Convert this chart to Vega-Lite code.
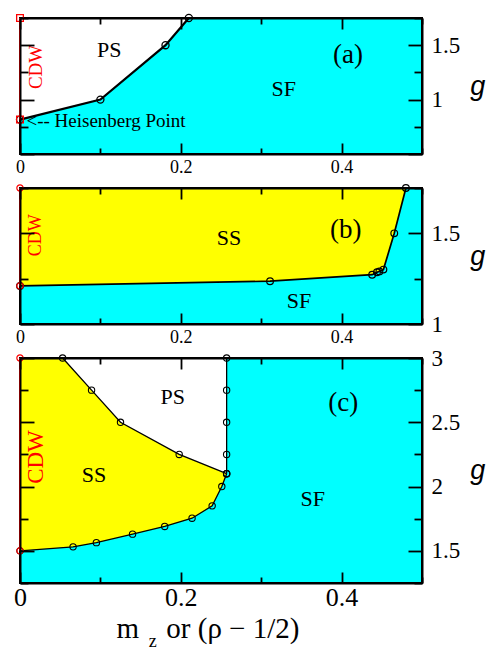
{
  "$schema": "https://vega.github.io/schema/vega-lite/v6.json",
  "padding": {"left": 12, "top": 10, "right": 0, "bottom": 3},
  "spacing": 34,
  "bounds": "flush",
  "config": {
    "view": {"fill": "#00ffff", "stroke": "black", "strokeWidth": 2},
    "axis": {
      "labelFont": "Liberation Serif",
      "labelColor": "black",
      "tickColor": "black",
      "tickWidth": 1.8,
      "domainColor": "black",
      "domainWidth": 2,
      "grid": false
    },
    "axisY": {
      "titleFont": "Liberation Sans",
      "titleFontStyle": "italic",
      "titleFontWeight": "normal",
      "titleFontSize": 27,
      "titleAngle": 0,
      "titleAlign": "left",
      "titleBaseline": "middle",
      "titlePadding": 10,
      "titleColor": "black"
    },
    "text": {"font": "Liberation Serif"}
  },
  "vconcat": [
    {
      "width": 402,
      "height": 136,
      "resolve": {"axis": {"x": "independent", "y": "independent"}},
      "layer": [
        {
          "data": {"values": [
            {"x": 0, "g": 0.816},
            {"x": 0.1, "g": 1.0},
            {"x": 0.181, "g": 1.5},
            {"x": 0.21, "g": 1.75}
          ]},
          "mark": {"type": "area", "color": "white", "interpolate": "linear"},
          "encoding": {
            "x": {"field": "x", "type": "quantitative", "scale": {"domain": [0, 0.5], "nice": false, "zero": false},
              "axis": {"orient": "bottom", "values": [0, 0.1, 0.2, 0.3, 0.4, 0.5],
                "labelExpr": "datum.value == 0 ? '0' : datum.value == 0.2 ? '0.2' : datum.value == 0.4 ? '0.4' : ''",
                "tickSize": {"condition": {"test": "datum.value == 0.1 || datum.value == 0.3 || datum.value == 0.5", "value": -6}, "value": -11},
                "labelFontSize": {"condition": {"test": "datum.value == 0 || datum.value == 0.2 || datum.value == 0.4", "value": 18}, "value": 0},
                "labelPadding": 15, "labelFlush": false, "labelOverlap": false, "title": null, "zindex": 1}},
            "y": {"field": "g", "type": "quantitative", "scale": {"domain": [0.5, 1.75], "nice": false, "zero": false},
              "axis": {"orient": "right", "values": [0.5, 0.75, 1, 1.25, 1.5, 1.75],
                "labelExpr": "datum.value == 1 ? '1' : datum.value == 1.5 ? '1.5' : ''",
                "tickSize": {"condition": {"test": "datum.value == 0.75 || datum.value == 1.25 || datum.value == 1.75", "value": -8}, "value": -14},
                "labelFontSize": {"condition": {"test": "datum.value == 1 || datum.value == 1.5", "value": 23}, "value": 0},
                "labelPadding": 23, "labelFlush": false, "labelOverlap": false, "title": "g", "zindex": 1}},
            "y2": {"datum": 1.75}
          }
        },
        {
          "data": {"values": [
            {"x": 0, "g": 0.816},
            {"x": 0.1, "g": 1.0},
            {"x": 0.181, "g": 1.5},
            {"x": 0.21, "g": 1.75}
          ]},
          "mark": {"type": "line", "color": "black", "strokeWidth": 2.2,
            "point": {"filled": false, "size": 50, "strokeWidth": 1.3, "color": "black"}},
          "encoding": {
            "x": {"field": "x", "type": "quantitative", "scale": {"domain": [0, 0.5], "nice": false, "zero": false},
              "axis": {"orient": "top", "values": [0, 0.1, 0.2, 0.3, 0.4, 0.5], "labels": false,
                "tickSize": {"condition": {"test": "datum.value == 0.1 || datum.value == 0.3 || datum.value == 0.5", "value": -6}, "value": -11},
                "title": null, "zindex": 1}},
            "y": {"field": "g", "type": "quantitative", "scale": {"domain": [0.5, 1.75], "nice": false, "zero": false},
              "axis": {"orient": "left", "values": [0.5, 0.75, 1, 1.25, 1.5, 1.75], "labels": false,
                "tickSize": {"condition": {"test": "datum.value == 0.75 || datum.value == 1.25 || datum.value == 1.75", "value": -8}, "value": -14},
                "title": null, "zindex": 1}}
          }
        },
        {
          "data": {"values": [{"x": 0, "g": 0.816}, {"x": 0, "g": 1.75}]},
          "mark": {"type": "line", "color": "red", "strokeWidth": 2,
            "point": {"shape": "square", "filled": false, "size": 45, "strokeWidth": 1.3, "color": "red"}},
          "encoding": {
            "x": {"field": "x", "type": "quantitative", "scale": {"domain": [0, 0.5], "nice": false, "zero": false}, "axis": null},
            "y": {"field": "g", "type": "quantitative", "scale": {"domain": [0.5, 1.75], "nice": false, "zero": false}, "axis": null}
          }
        },
        {
          "data": {"values": [{"t": "PS", "x": 0.111, "g": 1.457}, {"t": "SF", "x": 0.328, "g": 1.098}]},
          "mark": {"type": "text", "fontSize": 22, "color": "black"},
          "encoding": {
            "x": {"field": "x", "type": "quantitative", "scale": {"domain": [0, 0.5], "nice": false, "zero": false}, "axis": null},
            "y": {"field": "g", "type": "quantitative", "scale": {"domain": [0.5, 1.75], "nice": false, "zero": false}, "axis": null},
            "text": {"field": "t"}
          }
        },
        {
          "data": {"values": [{"t": "(a)", "x": 0.408, "g": 1.41}]},
          "mark": {"type": "text", "fontSize": 27, "color": "black"},
          "encoding": {
            "x": {"field": "x", "type": "quantitative", "scale": {"domain": [0, 0.5], "nice": false, "zero": false}, "axis": null},
            "y": {"field": "g", "type": "quantitative", "scale": {"domain": [0.5, 1.75], "nice": false, "zero": false}, "axis": null},
            "text": {"field": "t"}
          }
        },
        {
          "data": {"values": [{"t": "CDW", "x": 0.02, "g": 1.3}]},
          "mark": {"type": "text", "fontSize": 19, "color": "red", "angle": 270},
          "encoding": {
            "x": {"field": "x", "type": "quantitative", "scale": {"domain": [0, 0.5], "nice": false, "zero": false}, "axis": null},
            "y": {"field": "g", "type": "quantitative", "scale": {"domain": [0.5, 1.75], "nice": false, "zero": false}, "axis": null},
            "text": {"field": "t"}
          }
        },
        {
          "data": {"values": [{"t": "<-- Heisenberg Point", "x": 0.008, "g": 0.8}]},
          "mark": {"type": "text", "fontSize": 19, "color": "black", "align": "left"},
          "encoding": {
            "x": {"field": "x", "type": "quantitative", "scale": {"domain": [0, 0.5], "nice": false, "zero": false}, "axis": null},
            "y": {"field": "g", "type": "quantitative", "scale": {"domain": [0.5, 1.75], "nice": false, "zero": false}, "axis": null},
            "text": {"field": "t"}
          }
        }
      ]
    },
    {
      "width": 402,
      "height": 136,
      "resolve": {"axis": {"x": "independent", "y": "independent"}},
      "layer": [
        {
          "data": {"values": [
            {"x": 0, "g": 1.21},
            {"x": 0.311, "g": 1.236},
            {"x": 0.438, "g": 1.272},
            {"x": 0.444, "g": 1.285},
            {"x": 0.447, "g": 1.29},
            {"x": 0.452, "g": 1.3},
            {"x": 0.4655, "g": 1.5},
            {"x": 0.48, "g": 1.75}
          ]},
          "mark": {"type": "area", "color": "#ffff00", "interpolate": "linear"},
          "encoding": {
            "x": {"field": "x", "type": "quantitative", "scale": {"domain": [0, 0.5], "nice": false, "zero": false},
              "axis": {"orient": "bottom", "values": [0, 0.1, 0.2, 0.3, 0.4, 0.5],
                "labelExpr": "datum.value == 0 ? '0' : datum.value == 0.2 ? '0.2' : datum.value == 0.4 ? '0.4' : ''",
                "tickSize": {"condition": {"test": "datum.value == 0.1 || datum.value == 0.3 || datum.value == 0.5", "value": -6}, "value": -11},
                "labelFontSize": {"condition": {"test": "datum.value == 0 || datum.value == 0.2 || datum.value == 0.4", "value": 18}, "value": 0},
                "labelPadding": 15, "labelFlush": false, "labelOverlap": false, "title": null, "zindex": 1}},
            "y": {"field": "g", "type": "quantitative", "scale": {"domain": [1, 1.75], "nice": false, "zero": false},
              "axis": {"orient": "right", "values": [1, 1.25, 1.5, 1.75],
                "labelExpr": "datum.value == 1 ? '1' : datum.value == 1.5 ? '1.5' : ''",
                "tickSize": {"condition": {"test": "datum.value == 1.25 || datum.value == 1.75", "value": -8}, "value": -14},
                "labelFontSize": {"condition": {"test": "datum.value == 1 || datum.value == 1.5", "value": 23}, "value": 0},
                "labelPadding": 23, "labelFlush": false, "labelOverlap": false, "title": "g", "zindex": 1}},
            "y2": {"datum": 1.75}
          }
        },
        {
          "data": {"values": [
            {"x": 0, "g": 1.21},
            {"x": 0.311, "g": 1.236},
            {"x": 0.438, "g": 1.272},
            {"x": 0.444, "g": 1.285},
            {"x": 0.447, "g": 1.29},
            {"x": 0.452, "g": 1.3},
            {"x": 0.4655, "g": 1.5},
            {"x": 0.48, "g": 1.75}
          ]},
          "mark": {"type": "line", "color": "black", "strokeWidth": 1.7,
            "point": {"filled": false, "size": 45, "strokeWidth": 1.2, "color": "black"}},
          "encoding": {
            "x": {"field": "x", "type": "quantitative", "scale": {"domain": [0, 0.5], "nice": false, "zero": false},
              "axis": {"orient": "top", "values": [0, 0.1, 0.2, 0.3, 0.4, 0.5], "labels": false,
                "tickSize": {"condition": {"test": "datum.value == 0.1 || datum.value == 0.3 || datum.value == 0.5", "value": -6}, "value": -11},
                "title": null, "zindex": 1}},
            "y": {"field": "g", "type": "quantitative", "scale": {"domain": [1, 1.75], "nice": false, "zero": false},
              "axis": {"orient": "left", "values": [1, 1.25, 1.5, 1.75], "labels": false,
                "tickSize": {"condition": {"test": "datum.value == 1.25 || datum.value == 1.75", "value": -8}, "value": -14},
                "title": null, "zindex": 1}}
          }
        },
        {
          "data": {"values": [{"x": 0, "g": 1.21}, {"x": 0, "g": 1.75}]},
          "mark": {"type": "line", "color": "red", "strokeWidth": 1.6,
            "point": {"filled": false, "size": 40, "strokeWidth": 1.2, "color": "red"}},
          "encoding": {
            "x": {"field": "x", "type": "quantitative", "scale": {"domain": [0, 0.5], "nice": false, "zero": false}, "axis": null},
            "y": {"field": "g", "type": "quantitative", "scale": {"domain": [1, 1.75], "nice": false, "zero": false}, "axis": null}
          }
        },
        {
          "data": {"values": [{"t": "SS", "x": 0.26, "g": 1.476}, {"t": "SF", "x": 0.347, "g": 1.126}]},
          "mark": {"type": "text", "fontSize": 22, "color": "black"},
          "encoding": {
            "x": {"field": "x", "type": "quantitative", "scale": {"domain": [0, 0.5], "nice": false, "zero": false}, "axis": null},
            "y": {"field": "g", "type": "quantitative", "scale": {"domain": [1, 1.75], "nice": false, "zero": false}, "axis": null},
            "text": {"field": "t"}
          }
        },
        {
          "data": {"values": [{"t": "(b)", "x": 0.405, "g": 1.52}]},
          "mark": {"type": "text", "fontSize": 27, "color": "black"},
          "encoding": {
            "x": {"field": "x", "type": "quantitative", "scale": {"domain": [0, 0.5], "nice": false, "zero": false}, "axis": null},
            "y": {"field": "g", "type": "quantitative", "scale": {"domain": [1, 1.75], "nice": false, "zero": false}, "axis": null},
            "text": {"field": "t"}
          }
        },
        {
          "data": {"values": [{"t": "CDW", "x": 0.02, "g": 1.49}]},
          "mark": {"type": "text", "fontSize": 18, "color": "red", "angle": 270},
          "encoding": {
            "x": {"field": "x", "type": "quantitative", "scale": {"domain": [0, 0.5], "nice": false, "zero": false}, "axis": null},
            "y": {"field": "g", "type": "quantitative", "scale": {"domain": [1, 1.75], "nice": false, "zero": false}, "axis": null},
            "text": {"field": "t"}
          }
        }
      ]
    },
    {
      "width": 402,
      "height": 225,
      "resolve": {"axis": {"x": "independent", "y": "independent"}},
      "layer": [
        {
          "data": {"values": [
            {"x": 0, "g": 1.5},
            {"x": 0.066, "g": 1.531},
            {"x": 0.095, "g": 1.564},
            {"x": 0.14, "g": 1.63},
            {"x": 0.18, "g": 1.69},
            {"x": 0.214, "g": 1.754},
            {"x": 0.239, "g": 1.85},
            {"x": 0.251, "g": 2.0},
            {"x": 0.257, "g": 2.1}
          ]},
          "mark": {"type": "area", "color": "#ffff00", "interpolate": "linear"},
          "encoding": {
            "x": {"field": "x", "type": "quantitative", "scale": {"domain": [0, 0.5], "nice": false, "zero": false},
              "axis": {"orient": "bottom", "values": [0, 0.1, 0.2, 0.3, 0.4, 0.5],
                "labelExpr": "datum.value == 0 ? '0' : datum.value == 0.2 ? '0.2' : datum.value == 0.4 ? '0.4' : ''",
                "tickSize": {"condition": {"test": "datum.value == 0.1 || datum.value == 0.3 || datum.value == 0.5", "value": -6}, "value": -11},
                "labelFontSize": {"condition": {"test": "datum.value == 0 || datum.value == 0.2 || datum.value == 0.4", "value": 26}, "value": 0},
                "labelPadding": 12, "labelFlush": false, "labelOverlap": false, "title": null, "zindex": 1}},
            "y": {"field": "g", "type": "quantitative", "scale": {"domain": [1.25, 3], "nice": false, "zero": false},
              "axis": {"orient": "right", "values": [1.25, 1.5, 1.75, 2, 2.25, 2.5, 2.75, 3],
                "labelExpr": "datum.value == 1.5 ? '1.5' : datum.value == 2 ? '2' : datum.value == 2.5 ? '2.5' : datum.value == 3 ? '3' : ''",
                "tickSize": {"condition": {"test": "datum.value == 1.25 || datum.value == 1.75 || datum.value == 2.25 || datum.value == 2.75", "value": -8}, "value": -14},
                "labelFontSize": {"condition": {"test": "datum.value == 1.5 || datum.value == 2 || datum.value == 2.5 || datum.value == 3", "value": 23}, "value": 0},
                "labelPadding": 23, "labelFlush": false, "labelOverlap": false, "title": "g", "zindex": 1}},
            "y2": {"datum": 3}
          }
        },
        {
          "data": {"values": [
            {"x": 0.053, "g": 3},
            {"x": 0.089, "g": 2.75},
            {"x": 0.125, "g": 2.5},
            {"x": 0.198, "g": 2.25},
            {"x": 0.257, "g": 2.1}
          ]},
          "mark": {"type": "area", "color": "white", "interpolate": "linear"},
          "encoding": {
            "x": {"field": "x", "type": "quantitative", "scale": {"domain": [0, 0.5], "nice": false, "zero": false}, "axis": null},
            "y": {"field": "g", "type": "quantitative", "scale": {"domain": [1.25, 3], "nice": false, "zero": false}, "axis": null},
            "y2": {"datum": 3}
          }
        },
        {
          "data": {"values": [
            {"s": "lower", "x": 0, "g": 1.5},
            {"s": "lower", "x": 0.066, "g": 1.531},
            {"s": "lower", "x": 0.095, "g": 1.564},
            {"s": "lower", "x": 0.14, "g": 1.63},
            {"s": "lower", "x": 0.18, "g": 1.69},
            {"s": "lower", "x": 0.214, "g": 1.754},
            {"s": "lower", "x": 0.239, "g": 1.85},
            {"s": "lower", "x": 0.251, "g": 2.0},
            {"s": "lower", "x": 0.257, "g": 2.1},
            {"s": "upper", "x": 0.053, "g": 3},
            {"s": "upper", "x": 0.089, "g": 2.75},
            {"s": "upper", "x": 0.125, "g": 2.5},
            {"s": "upper", "x": 0.198, "g": 2.25},
            {"s": "upper", "x": 0.257, "g": 2.1},
            {"s": "ps_sf", "x": 0.257, "g": 3},
            {"s": "ps_sf", "x": 0.257, "g": 2.75},
            {"s": "ps_sf", "x": 0.257, "g": 2.5},
            {"s": "ps_sf", "x": 0.257, "g": 2.25},
            {"s": "ps_sf", "x": 0.257, "g": 2.1}
          ]},
          "mark": {"type": "line", "color": "black", "strokeWidth": 1.3,
            "point": {"filled": false, "size": 40, "strokeWidth": 1.1, "color": "black"}},
          "encoding": {
            "x": {"field": "x", "type": "quantitative", "scale": {"domain": [0, 0.5], "nice": false, "zero": false},
              "axis": {"orient": "top", "values": [0, 0.1, 0.2, 0.3, 0.4, 0.5], "labels": false,
                "tickSize": {"condition": {"test": "datum.value == 0.1 || datum.value == 0.3 || datum.value == 0.5", "value": -6}, "value": -11},
                "title": null, "zindex": 1}},
            "y": {"field": "g", "type": "quantitative", "scale": {"domain": [1.25, 3], "nice": false, "zero": false},
              "axis": {"orient": "left", "values": [1.25, 1.5, 1.75, 2, 2.25, 2.5, 2.75, 3], "labels": false,
                "tickSize": {"condition": {"test": "datum.value == 1.25 || datum.value == 1.75 || datum.value == 2.25 || datum.value == 2.75", "value": -8}, "value": -14},
                "title": null, "zindex": 1}},
            "detail": {"field": "s"}
          }
        },
        {
          "data": {"values": [{"x": 0, "g": 1.5}, {"x": 0, "g": 3}]},
          "mark": {"type": "line", "color": "red", "strokeWidth": 2,
            "point": {"filled": false, "size": 40, "strokeWidth": 1.2, "color": "red"}},
          "encoding": {
            "x": {"field": "x", "type": "quantitative", "scale": {"domain": [0, 0.5], "nice": false, "zero": false}, "axis": null},
            "y": {"field": "g", "type": "quantitative", "scale": {"domain": [1.25, 3], "nice": false, "zero": false}, "axis": null}
          }
        },
        {
          "data": {"values": [{"t": "PS", "x": 0.19, "g": 2.7}, {"t": "SS", "x": 0.092, "g": 2.09}, {"t": "SF", "x": 0.364, "g": 1.9}]},
          "mark": {"type": "text", "fontSize": 22, "color": "black"},
          "encoding": {
            "x": {"field": "x", "type": "quantitative", "scale": {"domain": [0, 0.5], "nice": false, "zero": false}, "axis": null},
            "y": {"field": "g", "type": "quantitative", "scale": {"domain": [1.25, 3], "nice": false, "zero": false}, "axis": null},
            "text": {"field": "t"}
          }
        },
        {
          "data": {"values": [{"t": "(c)", "x": 0.402, "g": 2.65}]},
          "mark": {"type": "text", "fontSize": 27, "color": "black"},
          "encoding": {
            "x": {"field": "x", "type": "quantitative", "scale": {"domain": [0, 0.5], "nice": false, "zero": false}, "axis": null},
            "y": {"field": "g", "type": "quantitative", "scale": {"domain": [1.25, 3], "nice": false, "zero": false}, "axis": null},
            "text": {"field": "t"}
          }
        },
        {
          "data": {"values": [{"t": "CDW", "x": 0.02, "g": 2.23}]},
          "mark": {"type": "text", "fontSize": 23, "color": "red", "angle": 270},
          "encoding": {
            "x": {"field": "x", "type": "quantitative", "scale": {"domain": [0, 0.5], "nice": false, "zero": false}, "axis": null},
            "y": {"field": "g", "type": "quantitative", "scale": {"domain": [1.25, 3], "nice": false, "zero": false}, "axis": null},
            "text": {"field": "t"}
          }
        },
        {
          "data": {"values": [{"t": "m", "x": 0.12, "g": 0.82}, {"t": "or (ρ − 1/2)", "x": 0.182, "g": 0.82}]},
          "mark": {"type": "text", "fontSize": 29, "color": "black", "align": "left", "baseline": "alphabetic"},
          "encoding": {
            "x": {"field": "x", "type": "quantitative", "scale": {"domain": [0, 0.5], "nice": false, "zero": false}, "axis": null},
            "y": {"field": "g", "type": "quantitative", "scale": {"domain": [1.25, 3], "nice": false, "zero": false}, "axis": null},
            "text": {"field": "t"}
          }
        },
        {
          "data": {"values": [{"t": "z", "x": 0.16, "g": 0.752}]},
          "mark": {"type": "text", "fontSize": 18, "color": "black", "align": "left", "baseline": "alphabetic"},
          "encoding": {
            "x": {"field": "x", "type": "quantitative", "scale": {"domain": [0, 0.5], "nice": false, "zero": false}, "axis": null},
            "y": {"field": "g", "type": "quantitative", "scale": {"domain": [1.25, 3], "nice": false, "zero": false}, "axis": null},
            "text": {"field": "t"}
          }
        }
      ]
    }
  ]
}
